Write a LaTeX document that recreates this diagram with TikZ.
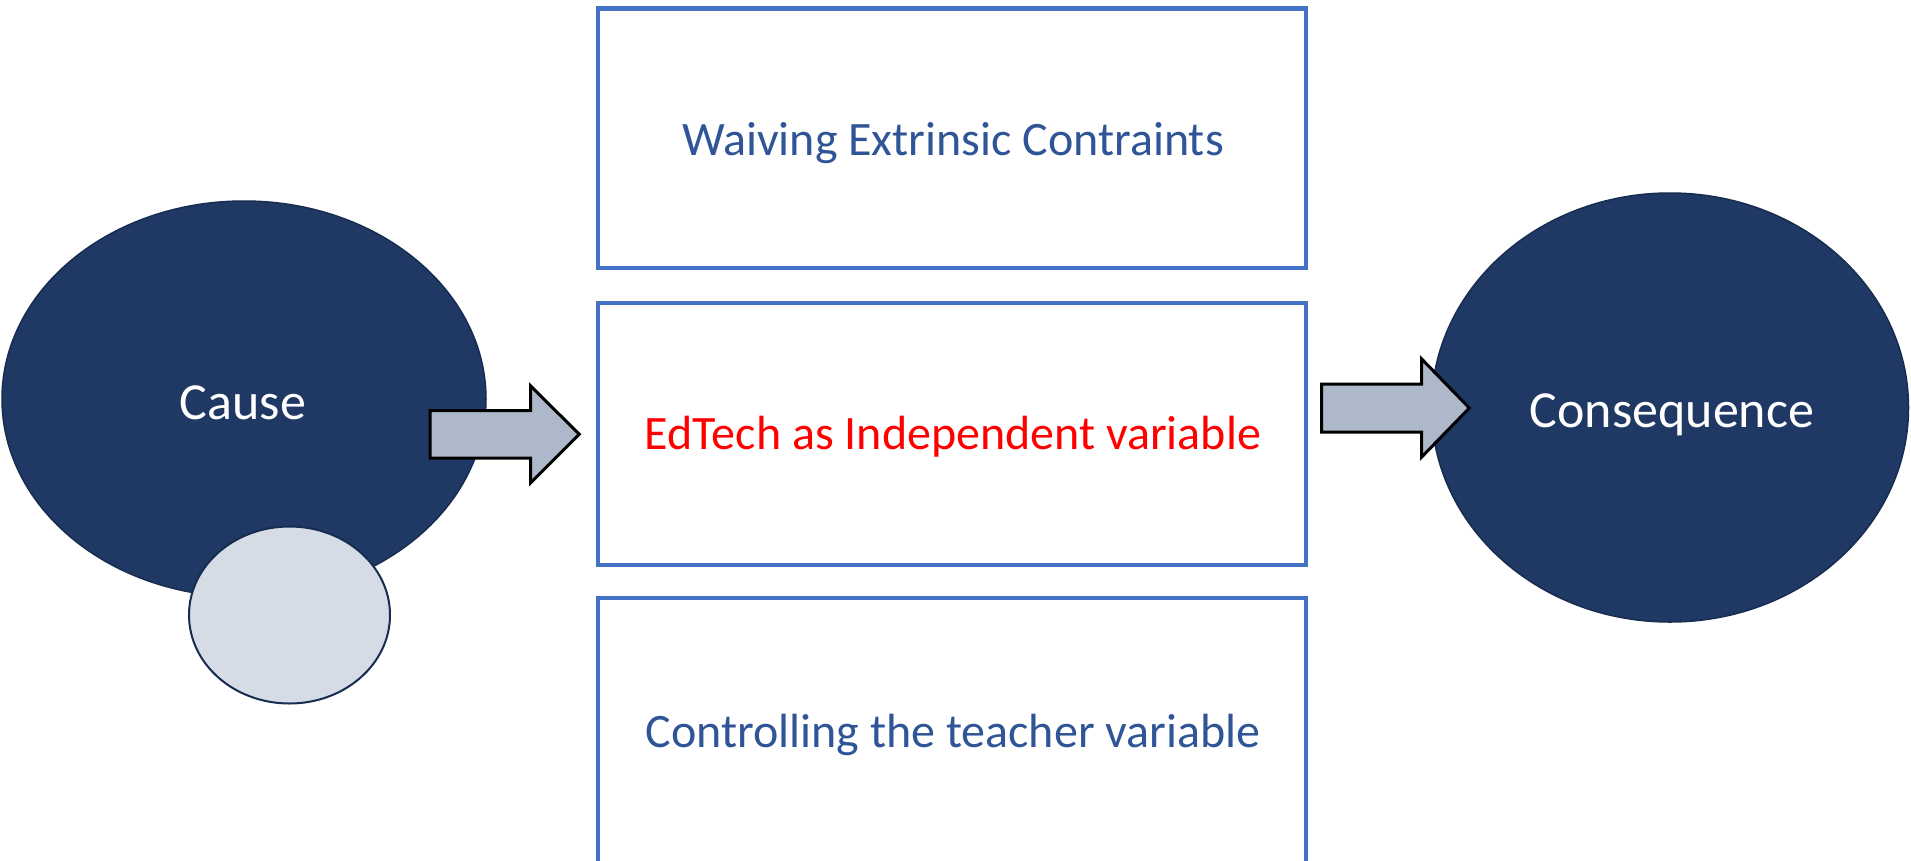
\documentclass[tikz,border=0pt]{standalone}
\usepackage{fontspec}
\setmainfont{Carlito}
\usetikzlibrary{shapes.geometric}
\definecolor{navy}{HTML}{203864}
\definecolor{navyline}{HTML}{172C51}
\definecolor{lightell}{HTML}{D6DCE5}
\definecolor{arrowfill}{HTML}{ADB9CA}
\definecolor{boxblue}{HTML}{4472C4}
\definecolor{textblue}{HTML}{2F5597}
\tikzset{
  bigell/.style={ellipse, fill=navy, draw=navyline, line width=1.5pt, inner sep=0pt},
  smallell/.style={ellipse, fill=lightell, draw=navyline, line width=2pt, inner sep=0pt},
  boxnode/.style={rectangle, draw=boxblue, line width=4.5pt, fill=white, minimum width=708pt, inner sep=0pt},
  blockarrow/.style={fill=arrowfill, draw=black, line width=3pt, line join=miter},
  elltext/.style={anchor=base, text=white, font=\fontsize{52}{62}\selectfont, inner sep=0pt},
  boxtext/.style={anchor=base, font=\fontsize{48}{58}\selectfont, inner sep=0pt}
}
\begin{document}
\begin{tikzpicture}[x=1pt,y=-1pt]
\useasboundingbox (0,0) rectangle (1911,860);
\fill[white] (0,0) rectangle (1911,860);
% boxes
\node[boxnode, minimum height=259.5pt] (boxtop) at (952,138.25) {};
\node[boxnode, minimum height=262pt] (boxmid) at (952,434) {};
\node[boxnode, minimum height=266pt] (boxbot) at (952,731) {};
% ellipses
\node[bigell, minimum width=484pt, minimum height=396pt] (cause) at (244,399) {};
\node[smallell, minimum width=201pt, minimum height=177pt] (small) at (289.5,615) {};
\node[bigell, minimum width=477pt, minimum height=429pt] (conseq) at (1670,407.5) {};
% block arrows
\draw[blockarrow] (430,410.7) -- (530.7,410.7) -- (530.7,386) -- (579.3,434.3)
  -- (530.7,482.7) -- (530.7,458) -- (430,458) -- cycle;
\draw[blockarrow] (1321.7,384) -- (1421.7,384) -- (1421.7,359) -- (1469.3,408)
  -- (1421.7,457) -- (1421.7,432) -- (1321.7,432) -- cycle;
% texts
\node[elltext] (causetxt) at (243,419) {Cause};
\node[elltext] (conseqtxt) at (1672,427) {Consequence};
\node[boxtext, text=textblue] (toptxt) at (953,155) {Waiving Extrinsic Contraints};
\node[boxtext, text=red] (midtxt) at (953,449) {EdTech as Independent variable};
\node[boxtext, text=textblue] (bottxt) at (953,747) {Controlling the teacher variable};
\end{tikzpicture}
\end{document}
